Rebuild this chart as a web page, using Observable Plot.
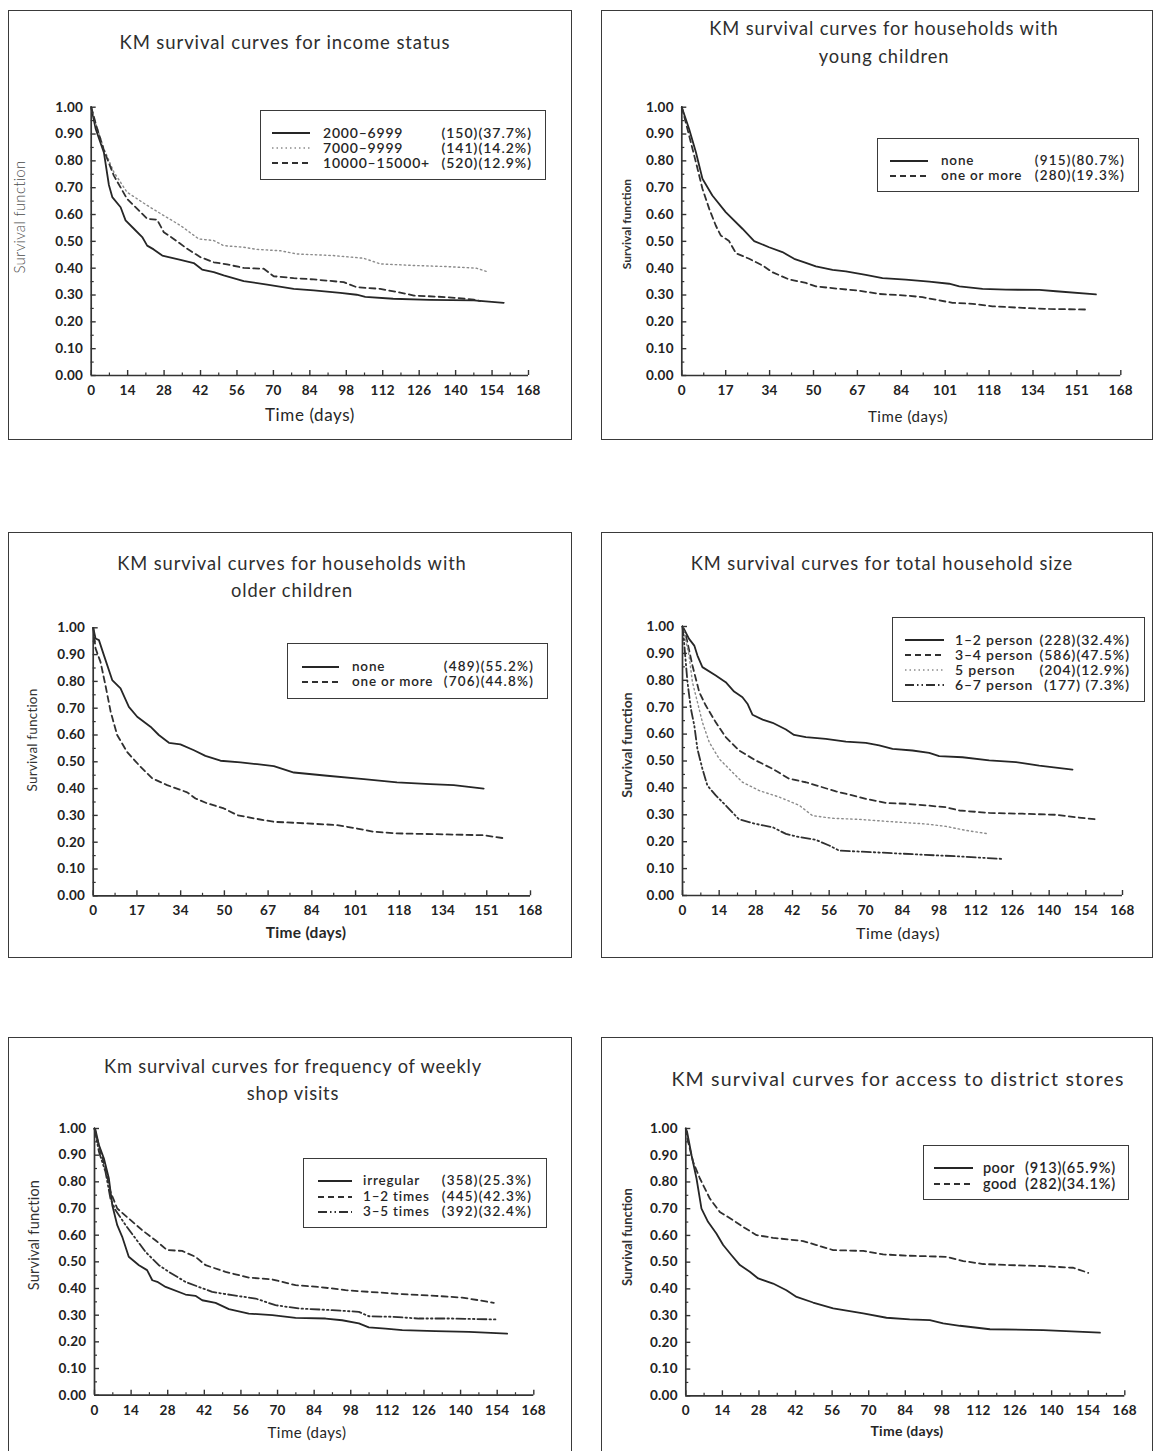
<!DOCTYPE html>
<html>
<head>
<meta charset="utf-8">
<script src="https://cdn.jsdelivr.net/npm/d3@7"></script>
<script src="https://cdn.jsdelivr.net/npm/@observablehq/plot@0.6"></script>
<style>
  html, body { margin: 0; padding: 0; background: #fff; }
  #page { position: relative; width: 1153px; height: 1451px; overflow: hidden; background: #fff;
          font-family: Lato, "Open Sans", sans-serif; color: #262626; }
  .abs { position: absolute; white-space: nowrap; }
  .frame { position: absolute; border: 1.6px solid #3a3a3a; box-sizing: border-box; }
  .lbox { position: absolute; border: 1.6px solid #3a3a3a; box-sizing: border-box; background: #fff; }
</style>
</head>
<body>
<div id="page"></div>
<script>
// ---------------- DATA ----------------
// tick labels
const xTicks14 = [0, 14, 28, 42, 56, 70, 84, 98, 112, 126, 140, 154, 168];
const xTicks17Labels = [0, 17, 34, 50, 67, 84, 101, 118, 134, 151, 168];
const yTicks = [0, 0.1, 0.2, 0.3, 0.4, 0.5, 0.6, 0.7, 0.8, 0.9, 1.0];

// Panel 1: income status  [day, survival]
const income2000 = [[0,1],[1.7,0.92],[4.9,0.83],[6.8,0.71],[8.1,0.665],[11.3,0.627],[13.2,0.578],[16.4,0.547],[19.6,0.516],[21.5,0.484],[24,0.47],[27.3,0.447],[34.3,0.431],[39.4,0.419],[42.6,0.395],[47.1,0.385],[50.9,0.373],[58.6,0.352],[67.6,0.339],[77.8,0.323],[85.5,0.317],[95.7,0.308],[102,0.301],[105.3,0.293],[116,0.286],[130,0.282],[147,0.28],[158.5,0.271]];
const income7000 = [[0,1],[2,0.93],[4.9,0.845],[8.7,0.758],[13.8,0.683],[21.5,0.634],[27.9,0.596],[34.3,0.559],[41.3,0.509],[47.1,0.503],[50.9,0.484],[58.6,0.478],[63.7,0.47],[72.7,0.465],[79,0.453],[93,0.447],[104.7,0.437],[111,0.416],[124,0.41],[136.7,0.406],[148,0.4],[152.7,0.385]];
const income10000 = [[0,1],[2,0.93],[4.9,0.839],[8.7,0.745],[13.8,0.658],[17.7,0.621],[21.5,0.584],[25.3,0.581],[27.9,0.534],[31.7,0.509],[36.9,0.472],[42,0.441],[47.1,0.422],[52.2,0.414],[58.6,0.401],[66.3,0.398],[70.1,0.37],[77.8,0.363],[85.5,0.358],[97,0.348],[102,0.329],[111,0.323],[117.5,0.311],[124,0.298],[136.7,0.292],[147,0.283],[149.5,0.277]];
const incomeNames = ["2000–6999", "7000–9999", "10000–15000+"];
const incomeN = [150, 141, 520];
const incomePct = [37.7, 14.2, 12.9];

// Panel 2: young children
const youngNone = [[0,1],[2.8,0.919],[5.4,0.832],[7.9,0.733],[11.7,0.671],[16.8,0.609],[23.2,0.547],[27.7,0.501],[33.4,0.478],[38.5,0.46],[43,0.435],[47.5,0.42],[51.3,0.407],[57.7,0.394],[62.8,0.388],[70.4,0.375],[76.8,0.363],[85.7,0.357],[94.7,0.35],[102.3,0.342],[106.2,0.332],[115.1,0.323],[124,0.32],[136.8,0.319],[143.2,0.314],[158.5,0.302]];
const youngMore = [[0,1],[1.5,0.944],[5.4,0.795],[7.9,0.696],[10.5,0.621],[13,0.559],[14.9,0.522],[18.1,0.501],[20.7,0.456],[25.8,0.435],[30.9,0.41],[34.7,0.385],[41.1,0.358],[47.5,0.345],[51.3,0.332],[60.2,0.323],[67.9,0.316],[75.5,0.304],[85.7,0.298],[92.1,0.292],[98.5,0.28],[103.6,0.271],[111.3,0.267],[118.9,0.258],[130.4,0.252],[140.6,0.248],[154.7,0.246]];
const youngNames = ["none", "one or more"];
const youngN = [915, 280];
const youngPct = [80.7, 19.3];

// Panel 3: older children
const olderNone = [[0,1],[0.9,0.96],[2.2,0.954],[4.1,0.898],[7.3,0.805],[10.5,0.774],[13.7,0.705],[16.9,0.668],[22,0.631],[25.2,0.6],[29.1,0.571],[33.5,0.565],[38.7,0.543],[43.1,0.522],[48.9,0.504],[56.6,0.498],[63,0.491],[69.4,0.484],[77.1,0.46],[89.9,0.448],[104,0.435],[116.7,0.423],[129.5,0.417],[138.5,0.413],[150,0.4]];
const olderMore = [[0,1],[0.9,0.923],[2.8,0.873],[4.7,0.786],[6.7,0.687],[9.2,0.6],[13,0.537],[18.2,0.481],[22.7,0.438],[28.4,0.413],[36.1,0.386],[39.3,0.363],[43.8,0.345],[50.2,0.326],[55.3,0.301],[61.7,0.289],[69.4,0.276],[78.3,0.272],[93.7,0.264],[101.4,0.251],[107.8,0.239],[116.7,0.233],[135.9,0.229],[150,0.226],[158.3,0.214]];
const olderNames = ["none", "one or more"];
const olderN = [489, 706];
const olderPct = [55.2, 44.8];

// Panel 4: total household size
const size12 = [[0,1],[0.6,0.99],[2.5,0.954],[4.5,0.929],[5.7,0.892],[7.6,0.849],[12.7,0.818],[16.5,0.793],[19.7,0.758],[22.9,0.737],[24.8,0.713],[26.7,0.672],[30.6,0.654],[34.4,0.642],[39.5,0.617],[42.6,0.597],[47.1,0.589],[54.7,0.582],[62.4,0.572],[70,0.567],[75.1,0.558],[80.2,0.545],[87.8,0.539],[94.2,0.53],[98,0.518],[106.9,0.514],[117.1,0.502],[127.3,0.496],[136.2,0.483],[148.9,0.468]];
const size34 = [[0,1],[1.3,0.967],[3.8,0.855],[6.4,0.756],[8.9,0.706],[12.7,0.644],[16.5,0.589],[21.6,0.539],[28,0.502],[34.4,0.471],[40.7,0.434],[47.1,0.421],[52.2,0.406],[58.6,0.387],[64.9,0.372],[70,0.359],[77.7,0.344],[85.3,0.341],[92.9,0.335],[100.6,0.328],[105.7,0.316],[117.1,0.307],[129.8,0.304],[142.6,0.3],[150.2,0.291],[157.9,0.283]];
const size5 = [[0,1],[0.6,0.979],[2.5,0.892],[3.8,0.793],[5.7,0.719],[7.6,0.644],[10.2,0.57],[14,0.508],[19.1,0.458],[22.9,0.421],[29.3,0.39],[36.9,0.366],[44.6,0.335],[49.6,0.297],[57.3,0.287],[67.5,0.283],[78.9,0.275],[92.9,0.266],[100.6,0.257],[108.2,0.242],[117.1,0.229]];
const size67 = [[0,1],[0.6,0.942],[1.9,0.793],[3.2,0.694],[4.5,0.632],[5.7,0.545],[7.6,0.471],[9.5,0.409],[12.7,0.372],[16.5,0.335],[21.6,0.283],[28,0.266],[34.4,0.254],[39.5,0.229],[44.6,0.217],[50.9,0.207],[56,0.186],[59.8,0.167],[72.6,0.161],[82.7,0.156],[92.9,0.151],[104.4,0.146],[122.2,0.136]];
const sizeNames = ["1–2 person", "3–4 person", "5 person", "6–7 person"];
const sizeN = [228, 586, 204, 177];
const sizePct = [32.4, 47.5, 12.9, 7.3];

// Panel 5: weekly shop visits
const visitsIrregular = [[0,1],[0.4,0.994],[1.7,0.9375],[3.6,0.8875],[5.5,0.8125],[6.8,0.7125],[8.7,0.6375],[10.6,0.594],[13.1,0.519],[17,0.4875],[20.1,0.469],[22.1,0.431],[24,0.425],[27.2,0.406],[34.8,0.3775],[38.6,0.3725],[41.2,0.356],[46.3,0.346],[51.4,0.3225],[59,0.306],[68,0.3],[76.9,0.29],[88.4,0.2875],[94.7,0.281],[101.1,0.269],[104.9,0.254],[111.3,0.25],[117.7,0.244],[130.4,0.24],[143.2,0.2375],[157.8,0.231]];
const visits12 = [[0,1],[2.3,0.9125],[4.2,0.85],[6.1,0.7625],[8.7,0.7],[13.1,0.6625],[18.2,0.619],[23.3,0.581],[27.8,0.544],[33.5,0.541],[38.6,0.519],[42.5,0.4875],[50.1,0.4625],[59,0.441],[68,0.434],[76.9,0.4125],[85.8,0.406],[96,0.394],[104.9,0.3875],[117.7,0.379],[130.4,0.3725],[140.6,0.366],[147,0.356],[152.7,0.346]];
const visits35 = [[0,1],[1.7,0.9125],[4.2,0.8375],[6.1,0.7375],[8,0.694],[11.9,0.6375],[15.7,0.5875],[19.5,0.5375],[24.6,0.4875],[28.4,0.4625],[34.8,0.425],[39.9,0.406],[45,0.3875],[52.7,0.375],[61.6,0.3625],[69.2,0.3375],[78.2,0.325],[90.9,0.319],[101.1,0.3125],[104.9,0.296],[113.9,0.294],[124.1,0.2875],[136.8,0.2875],[153.4,0.284]];
const visitsNames = ["irregular", "1–2 times", "3–5 times"];
const visitsN = [358, 445, 392];
const visitsPct = [25.3, 42.3, 32.4];

// Panel 6: access to district stores
const accessPoor = [[0,1],[0.5,0.9875],[2.2,0.9],[4.1,0.813],[6,0.7],[8.5,0.651],[11.7,0.607],[14.3,0.564],[17.5,0.526],[20.7,0.489],[24.5,0.464],[27.7,0.439],[33.4,0.42],[38.5,0.395],[42.4,0.37],[48.7,0.349],[56.4,0.327],[67.9,0.308],[76.8,0.292],[85.7,0.286],[93.4,0.283],[98.5,0.271],[104.9,0.262],[116.4,0.249],[136.8,0.246],[158.5,0.236]];
const accessGood = [[0,1],[0.9,0.95],[2.8,0.875],[5.4,0.813],[9.2,0.738],[13,0.688],[18.1,0.657],[21.9,0.632],[27.1,0.601],[33.4,0.591],[44.9,0.579],[50,0.564],[56.4,0.545],[67.9,0.542],[75.5,0.529],[85.7,0.524],[99.8,0.52],[106.2,0.504],[113.8,0.493],[124,0.489],[136.8,0.485],[148.3,0.479],[154,0.46]];
const accessNames = ["poor", "good"];
const accessN = [913, 282];
const accessPct = [65.9, 34.1];

// ---------------- STYLES ----------------
const lineStyles = {
  solid:   {stroke: "#262626", strokeWidth: 1.8},
  dotted:  {stroke: "#8c8c8c", strokeWidth: 1.4, strokeDasharray: "1.5,3"},
  dashed:  {stroke: "#303030", strokeWidth: 1.8, strokeDasharray: "6,4"},
  dashdot: {stroke: "#303030", strokeWidth: 1.8, strokeDasharray: "9,3,1.5,3,1.5,3"}
};

// ---------------- LAYOUT ----------------
const panels = [
  { frame:{l:8,t:10,r:572,b:440}, x0:90.7, x1:528, yTop:106.7, yBot:375, ticks:"14",
    title:["KM survival curves for income status"], titleX:285, titleY:[42], titleSize:18.5, titleSp:0.9,
    ylab:{x:19,y:217,size:15,weight:300,sp:0.3}, xlab:{x:310,y:414,size:17,weight:400,sp:0.6},
    series:[[income2000,"solid"],[income7000,"dotted"],[income10000,"dashed"]],
    names:incomeNames, N:incomeN, pct:incomePct,
    legend:{l:260,t:110,r:546,b:180, rows:[133,148,163], line:[272,310], labelX:323, countR:532, size:14, sp:0.8, csp:1.0} },
  { frame:{l:601,t:10,r:1153,b:440}, x0:681.3, x1:1120.3, yTop:106.7, yBot:375, ticks:"17",
    title:["KM survival curves for households with","young children"], titleX:884, titleY:[28,56], titleSize:18.3, titleSp:0.9,
    ylab:{x:627,y:224,size:12,weight:700,sp:0}, xlab:{x:908,y:416,size:15,weight:400,sp:0.6},
    series:[[youngNone,"solid"],[youngMore,"dashed"]],
    names:youngNames, N:youngN, pct:youngPct,
    legend:{l:877,t:138,r:1139,b:192, rows:[160.7,175.7], line:[890,928], labelX:941, countR:1125, size:13.5, sp:0.8, csp:1.2} },
  { frame:{l:8,t:532,r:572,b:958}, x0:92.7, x1:530, yTop:627.3, yBot:895.3, ticks:"17",
    title:["KM survival curves for households with","older children"], titleX:292, titleY:[563,590], titleSize:18.3, titleSp:0.9,
    ylab:{x:33,y:740,size:13.5,weight:400,sp:0.2}, xlab:{x:306,y:933,size:15.5,weight:700,sp:0.3},
    series:[[olderNone,"solid"],[olderMore,"dashed"]],
    names:olderNames, N:olderN, pct:olderPct,
    legend:{l:287,t:643,r:548,b:699, rows:[667,682], line:[302,339], labelX:352, countR:534, size:13.5, sp:0.8, csp:1.2} },
  { frame:{l:601,t:532,r:1153,b:958}, x0:682, x1:1122, yTop:626, yBot:895, ticks:"14",
    title:["KM survival curves for total household size"], titleX:882, titleY:[563], titleSize:18.3, titleSp:0.9,
    ylab:{x:627,y:745,size:14,weight:700,sp:0}, xlab:{x:898,y:933,size:16,weight:400,sp:0.5},
    series:[[size12,"solid"],[size34,"dashed"],[size5,"dotted"],[size67,"dashdot"]],
    names:sizeNames, N:sizeN, pct:sizePct,
    legend:{l:892,t:617,r:1145,b:702, rows:[640,655,670,685], line:[905,944], labelX:955, countR:1130, size:14, sp:0.8, csp:1.0} },
  { frame:{l:8,t:1037,r:572,b:1470}, x0:94, x1:533.3, yTop:1128, yBot:1394.7, ticks:"14",
    title:["Km survival curves for frequency of weekly","shop visits"], titleX:293, titleY:[1066,1093], titleSize:18.3, titleSp:0.8,
    ylab:{x:34,y:1235,size:14.5,weight:400,sp:0.2}, xlab:{x:307,y:1432,size:15,weight:400,sp:0.5},
    series:[[visitsIrregular,"solid"],[visits12,"dashed"],[visits35,"dashdot"]],
    names:visitsNames, N:visitsN, pct:visitsPct,
    legend:{l:303,t:1158,r:547,b:1228, rows:[1181,1197,1212], line:[318,352], labelX:363, countR:532, size:13.5, sp:0.8, csp:1.2} },
  { frame:{l:601,t:1037,r:1153,b:1470}, x0:685.3, x1:1124.3, yTop:1128, yBot:1395.3, ticks:"14",
    title:["KM survival curves for access to district stores"], titleX:898, titleY:[1079], titleSize:19.5, titleSp:1.2,
    ylab:{x:627,y:1237,size:13,weight:700,sp:0}, xlab:{x:907,y:1431,size:14,weight:700,sp:0.3},
    series:[[accessPoor,"solid"],[accessGood,"dashed"]],
    names:accessNames, N:accessN, pct:accessPct,
    legend:{l:923,t:1145,r:1129,b:1200, rows:[1168,1184], line:[934,973], labelX:983, countR:1116, size:14.5, sp:0.4, csp:0.8} }
];

// ---------------- RENDER ----------------
const page = document.getElementById("page");

function addText(str, x, y, opts = {}) {
  const d = document.createElement("div");
  d.className = "abs";
  d.textContent = str;
  d.style.left = x + "px";
  d.style.top = y + "px";
  d.style.fontSize = (opts.size || 13) + "px";
  d.style.fontWeight = opts.weight || 400;
  d.style.color = opts.color || "#262626";
  if (opts.spacing) d.style.letterSpacing = opts.spacing + "px";
  const anchor = opts.anchor || "middle";
  const tx = anchor === "start" ? "0" : anchor === "end" ? "-100%" : "-50%";
  d.style.lineHeight = "1";
  d.style.transform = `translate(${tx}, -50%)`;
  page.appendChild(d);
  return d;
}

function addRotated(str, cx, cy, opts) {
  const d = document.createElement("div");
  d.className = "abs";
  d.textContent = str;
  d.style.left = cx + "px";
  d.style.top = cy + "px";
  d.style.fontSize = opts.size + "px";
  d.style.fontWeight = opts.weight;
  d.style.letterSpacing = (opts.sp || 0) + "px";
  d.style.color = opts.weight < 400 ? "#4a4a4a" : "#333";
  d.style.lineHeight = "1";
  d.style.transform = "translate(-50%, -50%) rotate(-90deg)";
  page.appendChild(d);
}

function makeTicks(kind) {
  if (kind === "14") {
    const major = xTicks14;
    const minor = d3.range(7, 168, 14);
    const lab = new Map(major.map(v => [v, String(v)]));
    return {major, minor, fmt: d => lab.get(d)};
  } else {
    const major = xTicks17Labels.map((v, i) => i * 16.8);
    const minor = d3.range(10).map(i => i * 16.8 + 8.4);
    return {major, minor, fmt: d => String(xTicks17Labels[Math.round(d / 16.8)])};
  }
}

const yMinor = d3.range(0.05, 1, 0.1);

for (const p of panels) {
  const f = p.frame;
  const fr = document.createElement("div");
  fr.className = "frame";
  Object.assign(fr.style, {left: f.l + "px", top: f.t + "px", width: (f.r - f.l) + "px", height: (f.b - f.t) + "px"});
  page.appendChild(fr);

  const W = f.r - f.l, H = f.b - f.t;
  const plotW = p.x1 - p.x0, plotH = p.yBot - p.yTop;
  const t = makeTicks(p.ticks);
  const axisStroke = {stroke: "#333", strokeWidth: 1.7};

  const marks = [
    Plot.tickX(t.major, {x: d => d, insetTop: plotH - 5, stroke: "#333", strokeWidth: 1.4}),
    Plot.tickX(t.minor, {x: d => d, insetTop: plotH - 2.5, stroke: "#333", strokeWidth: 1.2}),
    Plot.tickY(yTicks, {y: d => d, insetRight: plotW - 5, stroke: "#333", strokeWidth: 1.4}),
    Plot.tickY(yMinor, {y: d => d, insetRight: plotW - 3, stroke: "#333", strokeWidth: 1.2}),
    Plot.ruleX([0], axisStroke),
    Plot.ruleY([0], axisStroke),
    Plot.axisX({ticks: t.major, tickFormat: t.fmt, tickSize: 0, tickPadding: 10}),
    Plot.axisY({ticks: yTicks, tickFormat: d => d.toFixed(2), tickSize: 0, tickPadding: 8}),
    ...p.series.map(([data, st]) => Plot.line(data, {x: d => d[0], y: d => d[1], ...lineStyles[st], strokeLinejoin: "round"}))
  ];

  const svg = Plot.plot({
    width: W, height: H,
    marginLeft: p.x0 - f.l, marginRight: f.r - p.x1,
    marginTop: p.yTop - f.t, marginBottom: f.b - p.yBot,
    x: {domain: [0, 168]},
    y: {domain: [0, 1]},
    style: {fontFamily: "Lato, 'Open Sans', sans-serif", fontSize: "13.5px", fontWeight: "700", letterSpacing: "0.3px", color: "#222", background: "transparent", overflow: "visible"},
    marks
  });
  svg.style.position = "absolute";
  svg.style.left = f.l + "px";
  svg.style.top = f.t + "px";
  svg.style.maxWidth = "none";
  page.appendChild(svg);

  // titles
  p.title.forEach((line, i) => addText(line, p.titleX, p.titleY[i], {size: p.titleSize, color: "#2e2e2e", spacing: p.titleSp}));
  // axis labels
  addRotated("Survival function", p.ylab.x, p.ylab.y, p.ylab);
  addText("Time (days)", p.xlab.x, p.xlab.y, {size: p.xlab.size, weight: p.xlab.weight, spacing: p.xlab.sp});

  // legend
  const L = p.legend;
  const box = document.createElement("div");
  box.className = "lbox";
  Object.assign(box.style, {left: L.l + "px", top: L.t + "px", width: (L.r - L.l) + "px", height: (L.b - L.t) + "px"});
  page.appendChild(box);
  p.series.forEach(([data, st], i) => {
    const y = L.rows[i];
    const s = lineStyles[st];
    const ns = "http://www.w3.org/2000/svg";
    const sv = document.createElementNS(ns, "svg");
    sv.setAttribute("width", L.line[1] - L.line[0]);
    sv.setAttribute("height", 6);
    sv.style.position = "absolute";
    sv.style.left = L.line[0] + "px";
    sv.style.top = (y - 3) + "px";
    const ln = document.createElementNS(ns, "line");
    ln.setAttribute("x1", 0); ln.setAttribute("x2", L.line[1] - L.line[0]);
    ln.setAttribute("y1", 3); ln.setAttribute("y2", 3);
    ln.setAttribute("stroke", s.stroke);
    ln.setAttribute("stroke-width", s.strokeWidth);
    if (s.strokeDasharray) ln.setAttribute("stroke-dasharray", s.strokeDasharray);
    sv.appendChild(ln);
    page.appendChild(sv);
    addText(p.names[i], L.labelX, y, {size: L.size, anchor: "start", weight: 600, spacing: L.sp});
    const pc = p.pct[i];
    const cnt = `(${p.N[i]})${pc < 10 ? " " : ""}(${pc.toFixed(1)}%)`;
    addText(cnt, L.countR, y, {size: L.size, anchor: "end", weight: 600, spacing: L.csp});
  });
}
</script>
</body>
</html>
